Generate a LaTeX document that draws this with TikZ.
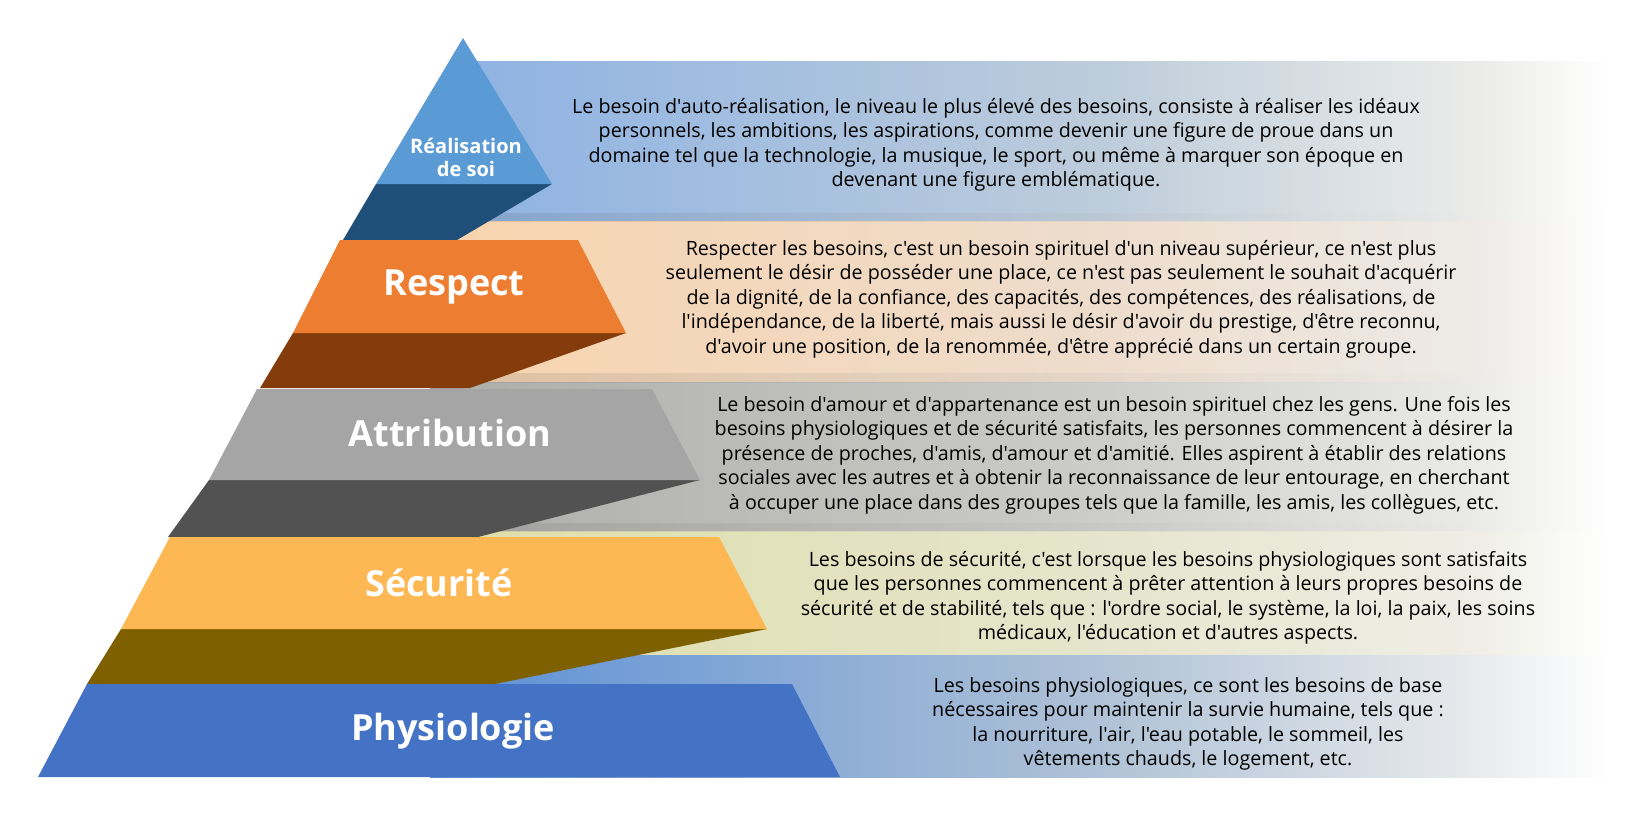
\documentclass[tikz,border=0pt]{standalone}
\usepackage{fontspec}
\setmainfont{Open Sans}[Ligatures=TeXOff]
\definecolor{triblue}{HTML}{5B9BD5}
\definecolor{darkblue}{HTML}{1F4E79}
\definecolor{orangeR}{HTML}{ED7D31}
\definecolor{brownR}{HTML}{843C0C}
\definecolor{greyA}{HTML}{A5A5A5}
\definecolor{dgreyA}{HTML}{525252}
\definecolor{yellowS}{HTML}{FDB853}
\definecolor{oliveS}{HTML}{7F6000}
\definecolor{blueP}{HTML}{4472C4}
\pgfdeclarehorizontalshading{bandone}{100bp}{rgb(0bp)=(0.561,0.702,0.890); rgb(25bp)=(0.561,0.702,0.890); rgb(52.6bp)=(0.741,0.800,0.859); rgb(69.3bp)=(0.922,0.925,0.914); rgb(75bp)=(1,1,1); rgb(100bp)=(1,1,1)}
\pgfdeclarehorizontalshading{bandtwo}{100bp}{rgb(0bp)=(0.973,0.831,0.682); rgb(25bp)=(0.973,0.831,0.682); rgb(52.6bp)=(0.933,0.863,0.796); rgb(69.3bp)=(0.929,0.918,0.906); rgb(75bp)=(1,1,1); rgb(100bp)=(1,1,1)}
\pgfdeclarehorizontalshading{bandthree}{100bp}{rgb(0bp)=(0.678,0.678,0.671); rgb(25bp)=(0.678,0.678,0.671); rgb(52.6bp)=(0.796,0.796,0.784); rgb(69.3bp)=(0.918,0.918,0.910); rgb(75bp)=(1,1,1); rgb(100bp)=(1,1,1)}
\pgfdeclarehorizontalshading{bandfour}{100bp}{rgb(0bp)=(0.871,0.871,0.667); rgb(25bp)=(0.871,0.871,0.667); rgb(52.6bp)=(0.898,0.898,0.800); rgb(69.3bp)=(0.933,0.933,0.902); rgb(75bp)=(1,1,1); rgb(100bp)=(1,1,1)}
\pgfdeclarehorizontalshading{bandfive}{100bp}{rgb(0bp)=(0.357,0.561,0.839); rgb(25bp)=(0.357,0.561,0.839); rgb(52.6bp)=(0.678,0.753,0.839); rgb(69.3bp)=(0.910,0.918,0.925); rgb(75bp)=(1,1,1); rgb(100bp)=(1,1,1)}
\tikzset{
  bandstrip/.style={left color=black!70, right color=white, opacity=0.14, draw=none},
  lvllabel/.style={text=white, inner sep=0pt, align=center, font=\bfseries\fontsize{36}{40}\selectfont},
  desc/.style={text=black, inner sep=0pt, align=center, font=\fontsize{19.7}{24.5}\selectfont},
}
\begin{document}
\begin{tikzpicture}[x=1pt,y=-1pt]
\useasboundingbox[fill=white] (0,0) rectangle (1639,815);
% background bands
\shade[shading=bandone]   (470,61)  rectangle (1610,221);
\shade[shading=bandtwo]   (430,221) rectangle (1610,382);
\shade[shading=bandthree] (430,382) rectangle (1610,531);
\shade[shading=bandfour]  (430,531) rectangle (1610,655);
\shade[shading=bandfive]  (430,655) rectangle (1610,777);
\shade[bandstrip] (470,213) rectangle (1610,221);
\shade[bandstrip] (430,373) rectangle (1610,382);
\shade[bandstrip] (430,523) rectangle (1610,531);
% pyramid
\fill[darkblue] (376,184) -- (552,184) -- (457,240) -- (343,240) -- cycle;
\fill[triblue]  (463,38) -- (552,184) -- (376,184) -- cycle;
\fill[brownR]   (293,333) -- (626,333) -- (470,388) -- (260,388) -- cycle;
\fill[orangeR]  (340,240) -- (578,240) -- (626,333) -- (293,333) -- cycle;
\fill[dgreyA]   (209,480) -- (700,480) -- (478,537) -- (168,537) -- cycle;
\fill[greyA]    (257,389) -- (652,389) -- (700,480) -- (209,480) -- cycle;
\fill[oliveS]   (121,629) -- (767,629) -- (495,684) -- (87,684) -- cycle;
\fill[yellowS]  (170,537) -- (719,537) -- (767,629) -- (121,629) -- cycle;
\fill[blueP]    (87,684) -- (792,684) -- (840,777) -- (38,777) -- cycle;
% labels
\node[lvllabel, font=\bfseries\fontsize{20}{23}\selectfont] (l1) at (466,157) {Réalisation\\de soi};
\node[lvllabel] (l2) at (454,287) {Respect};
\node[lvllabel] (l3) at (450,433) {Attribution};
\node[lvllabel] (l4) at (439,583) {Sécurité};
\node[lvllabel] (l5) at (453,731) {Physiologie};
% descriptions
\node[desc] (t1) at (996,145) {Le besoin d'auto-réalisation, le niveau le plus élevé des besoins, consiste à réaliser les idéaux\\personnels, les ambitions, les aspirations, comme devenir une figure de proue dans un\\domaine tel que la technologie, la musique, le sport, ou même à marquer son époque en\\devenant une figure emblématique.};
\node[desc] (t2) at (1061,299) {Respecter les besoins, c'est un besoin spirituel d'un niveau supérieur, ce n'est plus\\seulement le désir de posséder une place, ce n'est pas seulement le souhait d'acquérir\\de la dignité, de la confiance, des capacités, des compétences, des réalisations, de\\l'indépendance, de la liberté, mais aussi le désir d'avoir du prestige, d'être reconnu,\\d'avoir une position, de la renommée, d'être apprécié dans un certain groupe.};
\node[desc] (t3) at (1114,455) {Le besoin d'amour et d'appartenance est un besoin spirituel chez les gens. Une fois les\\besoins physiologiques et de sécurité satisfaits, les personnes commencent à désirer la\\présence de proches, d'amis, d'amour et d'amitié. Elles aspirent à établir des relations\\sociales avec les autres et à obtenir la reconnaissance de leur entourage, en cherchant\\à occuper une place dans des groupes tels que la famille, les amis, les collègues, etc.};
\node[desc] (t4) at (1168,598) {Les besoins de sécurité, c'est lorsque les besoins physiologiques sont satisfaits\\que les personnes commencent à prêter attention à leurs propres besoins de\\sécurité et de stabilité, tels que : l'ordre social, le système, la loi, la paix, les soins\\médicaux, l'éducation et d'autres aspects.};
\node[desc] (t5) at (1188,724) {Les besoins physiologiques, ce sont les besoins de base\\nécessaires pour maintenir la survie humaine, tels que :\\la nourriture, l'air, l'eau potable, le sommeil, les\\vêtements chauds, le logement, etc.};
\end{tikzpicture}
\end{document}
